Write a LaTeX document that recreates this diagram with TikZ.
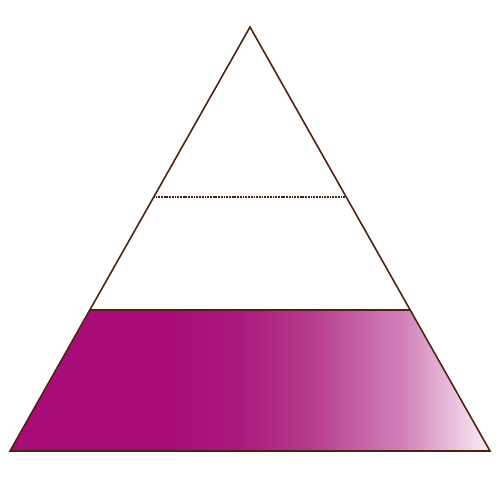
\documentclass[tikz,border=0pt]{standalone}
\usetikzlibrary{calc}
\definecolor{edge}{HTML}{4A2410}
\definecolor{magA}{HTML}{A80C78}
\definecolor{magAB}{HTML}{AB1A7D}
\definecolor{magB}{HTML}{B53A8C}
\definecolor{magC}{HTML}{D282BA}
\definecolor{magD}{HTML}{FBF0F6}
\pgfdeclarehorizontalshading{pyrfade}{100bp}{color(0bp)=(magA); color(25bp)=(magA); color(42bp)=(magA); color(49bp)=(magAB); color(56bp)=(magB); color(66bp)=(magC); color(75bp)=(magD); color(100bp)=(magD)}
\tikzset{
  outline/.style={draw=edge, line width=0.9pt, line join=miter},
  divider/.style={draw=edge, line width=0.9pt, dash pattern=on 0.6pt off 0.3pt},
}
\begin{document}
\begin{tikzpicture}[x=0.02cm, y=-0.02cm]
\useasboundingbox (0,0) rectangle (500,500);
\coordinate (apex) at (250,27);
\coordinate (bl) at (10,451);
\coordinate (br) at (490,451);
\coordinate (ml) at (90.4,310);
\coordinate (mr) at (409.6,310);
\coordinate (tl) at (154.4,197);
\coordinate (tr) at (345.6,197);
\path[shading=pyrfade] (bl) -- (ml) -- (mr) -- (br) -- cycle;
\draw[outline] (ml) -- (mr);
\draw[divider] (tl) -- (tr);
\draw[outline] (apex) -- (bl) -- (br) -- cycle;
\end{tikzpicture}
\end{document}
